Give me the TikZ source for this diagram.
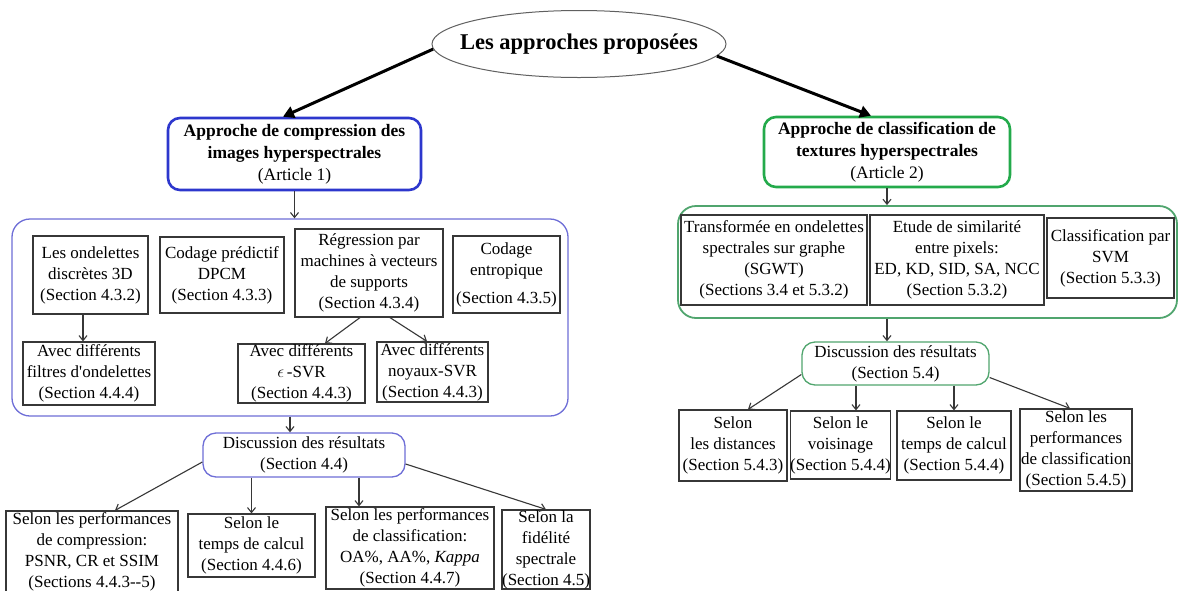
\documentclass[tikz,border=0pt]{standalone}
\usepackage{fontspec}
\setmainfont{Liberation Serif}
\usetikzlibrary{shapes.geometric,arrows.meta}
\definecolor{bluebox}{RGB}{45,55,205}
\definecolor{bluecont}{RGB}{110,110,215}
\definecolor{greenbox}{RGB}{35,170,75}
\definecolor{greencont}{RGB}{80,165,110}
\definecolor{linegray}{RGB}{55,55,55}
\tikzset{
  txt/.style={font=\fontsize{17}{21}\selectfont, align=center, inner sep=0pt},
  box/.style 2 args={txt, rectangle, draw=linegray, line width=1.2pt, minimum width=#1, minimum height=#2},
  appr/.style 2 args={txt, rectangle, rounded corners=12pt, line width=2.6pt, minimum width=#1, minimum height=#2, font=\fontsize{17.5}{22}\selectfont},
  cont/.style 2 args={rectangle, rounded corners=18pt, line width=1.3pt, minimum width=#1, minimum height=#2, inner sep=0pt},
  disc/.style 2 args={txt, rectangle, rounded corners=13pt, line width=1.3pt, minimum width=#1, minimum height=#2},
  ell/.style={ellipse, draw=gray!75!black, line width=1pt, minimum width=294pt, minimum height=67pt, inner sep=0pt, font=\fontsize{22.5}{26}\selectfont\bfseries},
  arr/.style={draw=linegray, line width=1.1pt, -{Straight Barb[length=5pt,width=8pt]}},
  bigarr/.style={draw=black, line width=3pt, -{Triangle[length=11pt,width=12pt]}},
}
\begin{document}
\begin{tikzpicture}[x=1pt,y=-1pt]
\useasboundingbox (0,0) rectangle (1179,590);
\clip (0,0) rectangle (1179,590);
\fill[white] (0,0) rectangle (1179,590);

% root
\node[ell] (top) at (579,44) {\makebox[0pt]{Les approches propos\'ees}};

% approaches
\node[appr={253pt}{72pt}, draw=bluebox] (A1) at (294.5,154)
  {\textbf{Approche de compression des}\\ \textbf{images hyperspectrales}\\ (Article 1)};
\node[appr={246pt}{70pt}, draw=greenbox] (A2) at (887,152)
  {\textbf{Approche de classification de}\\ \textbf{textures hyperspectrales}\\ (Article 2)};

\draw[bigarr] (top.182) -- ([xshift=-11.5pt]A1.north);
\draw[bigarr] (top.-5.5) -- ([xshift=-16pt]A2.north);

% left container
\node[cont={556pt}{197pt}, draw=bluecont] (CL) at (290,317.5) {};
\node[box={115pt}{78pt}] (b1) at (90.5,275) {Les ondelettes\\ discr\`etes 3D\\ (Section 4.3.2)};
\node[box={124pt}{76pt}] (b2) at (222,275) {Codage pr\'edictif\\ DPCM\\ (Section 4.3.3)};
\node[box={148pt}{88pt}] (b3) at (369,273) {R\'egression par\\ machines \`a vecteurs\\ de supports\\ (Section 4.3.4)};
\node[box={107pt}{77pt}] (b4) at (506.5,274.5) {Codage\\ entropique\\[7pt] (Section 4.3.5)};
\node[box={132pt}{63pt}] (b5) at (89,373.5) {Avec diff\'erents\\ filtres d\textquotesingle ondelettes\\ (Section 4.4.4)};
\node[box={127pt}{59pt}] (b6) at (301.5,373.5) {Avec diff\'erents\\ $\epsilon$\,-SVR\\ (Section 4.4.3)};
\node[box={111pt}{60pt}] (b7) at (432.5,372) {Avec diff\'erents\\ noyaux-SVR\\ (Section 4.4.3)};

\draw[arr] (A1.south) -- (A1.south |- CL.north);
\draw[arr] ([xshift=-7.5pt]b1.south) -- ([xshift=-7.5pt]b1.south |- b5.north);
\draw[arr] ([xshift=-9pt]b3.south) -- ([xshift=23.5pt]b6.north);
\draw[arr] ([xshift=21pt]b3.south) -- ([xshift=-5.5pt]b7.north);

% left discussion
\node[disc={202pt}{44pt}, draw=bluecont] (d1) at (304,455) {Discussion des r\'esultats\\ (Section 4.4)};
\draw[arr] (CL.south) -- (CL.south |- d1.north);

\node[box={172pt}{81pt}] (B1) at (92,551.5) {Selon les performances\\ de compression:\\ PSNR, CR et SSIM\\ (Sections 4.4.3-{}-5)};
\node[box={127pt}{63pt}] (B2) at (251.5,545.5) {Selon le\\ temps de calcul\\ (Section 4.4.6)};
\node[box={168pt}{82pt}] (B3) at (410,548) {Selon les performances\\ de classification:\\ OA\%, AA\%, \textit{Kappa}\\ (Section 4.4.7)};
\node[box={88pt}{79pt}] (B4) at (546,549.5) {Selon la\\ fid\'elit\'e\\ spectrale\\ (Section 4.5)};
\coordinate (B3in) at ([xshift=-51pt]B3.north);

\draw[arr] ([yshift=-7pt]d1.west) -- ([xshift=23pt]B1.north);
\draw[arr] (d1.south -| B2.north) -- (B2.north);
\draw[arr] (d1.south -| B3in) -- (B3in);
\draw[arr] ([yshift=-9pt]d1.east) -- (B4.north);

% right container
\node[cont={499pt}{112pt}, draw=greencont, line width=1.8pt] (CR) at (927.5,262) {};
\node[box={186pt}{90pt}] (R1) at (774,260) {Transform\'ee en ondelettes\\ spectrales sur graphe\\ (SGWT)\\ (Sections 3.4 et 5.3.2)};
\node[box={174pt}{90pt}] (R2) at (957,260) {Etude de similarit\'e\\ entre pixels:\\ ED, KD, SID, SA, NCC\\ (Section 5.3.2)};
\node[box={127pt}{80pt}] (R3) at (1110.5,258) {Classification par\\ SVM\\ (Section 5.3.3)};

\draw[arr] (A2.south) -- (A2.south |- CR.north);

% right discussion
\node[disc={187pt}{43pt}, draw=greencont] (d2) at (895.5,363.5) {Discussion des r\'esultats\\ (Section 5.4)};
\draw[arr] (CR.south -| A2.south) -- (d2.north -| A2.south);

\node[box={108pt}{71pt}] (C1) at (733,445.5) {Selon\\ les distances\\ (Section 5.4.3)};
\node[box={99pt}{68pt}] (C2) at (840.5,445) {Selon le\\ voisinage\\ (Section 5.4.4)};
\node[box={114pt}{69pt}] (C3) at (954,445.5) {Selon le\\ temps de calcul\\ (Section 5.4.4)};
\node[box={112pt}{82pt}] (C4) at (1076,450) {Selon les\\ performances\\ de classification\\ (Section 5.4.5)};
\coordinate (C2in) at ([xshift=15.5pt]C2.north);

\draw[arr] ([yshift=-11pt]d2.west) -- ([xshift=15pt]C1.north);
\draw[arr] (d2.south -| C2in) -- (C2in);
\draw[arr] (d2.south -| C3.north) -- (C3.north);
\draw[arr] ([yshift=-14pt]d2.east) -- ([xshift=-6pt]C4.north);
\end{tikzpicture}
\end{document}
